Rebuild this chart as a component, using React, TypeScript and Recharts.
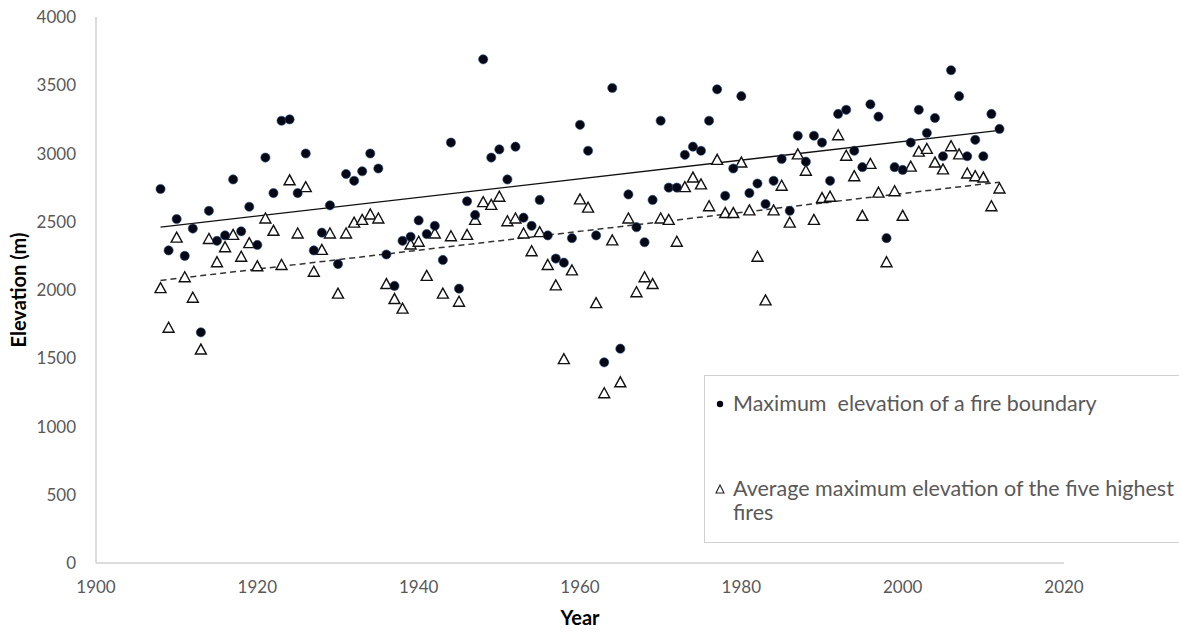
import React from 'react';
import { ScatterChart, Scatter, XAxis, YAxis, ReferenceLine, Label } from 'recharts';

const years = [
  1908, 1909, 1910, 1911, 1912, 1913, 1914, 1915, 1916, 1917, 1918, 1919, 1920, 1921, 1922, 1923, 1924, 1925,
  1926, 1927, 1928, 1929, 1930, 1931, 1932, 1933, 1934, 1935, 1936, 1937, 1938, 1939, 1940, 1941, 1942, 1943,
  1944, 1945, 1946, 1947, 1948, 1949, 1950, 1951, 1952, 1953, 1954, 1955, 1956, 1957, 1958, 1959, 1960, 1961,
  1962, 1963, 1964, 1965, 1966, 1967, 1968, 1969, 1970, 1971, 1972, 1973, 1974, 1975, 1976, 1977, 1978, 1979,
  1980, 1981, 1982, 1983, 1984, 1985, 1986, 1987, 1988, 1989, 1990, 1991, 1992, 1993, 1994, 1995, 1996, 1997,
  1998, 1999, 2000, 2001, 2002, 2003, 2004, 2005, 2006, 2007, 2008, 2009, 2010, 2011, 2012,
];

// maximum elevation of a fire boundary (m)
const maxElevation = [
  2740, 2290, 2520, 2250, 2450, 1690, 2580, 2360, 2400, 2810, 2430, 2610, 2330, 2970, 2710, 3240, 3250, 2710,
  3000, 2290, 2420, 2620, 2190, 2850, 2800, 2870, 3000, 2890, 2260, 2030, 2360, 2390, 2510, 2410, 2470, 2220,
  3080, 2010, 2650, 2550, 3690, 2970, 3030, 2810, 3050, 2530, 2470, 2660, 2400, 2230, 2200, 2380, 3210, 3020,
  2400, 1470, 3480, 1570, 2700, 2460, 2350, 2660, 3240, 2750, 2750, 2990, 3050, 3020, 3240, 3470, 2690, 2890,
  3420, 2710, 2780, 2630, 2800, 2960, 2580, 3130, 2940, 3130, 3080, 2800, 3290, 3320, 3020, 2900, 3360, 3270,
  2380, 2900, 2880, 3080, 3320, 3150, 3260, 2980, 3610, 3420, 2980, 3100, 2980, 3290, 3180,
];

// average maximum elevation of the five highest fires (m)
const avgTopFive = [
  2010, 1720, 2380, 2090, 1940, 1560, 2370, 2200, 2310, 2400, 2240, 2340, 2170, 2520, 2430, 2180, 2800, 2410,
  2750, 2130, 2290, 2410, 1970, 2410, 2490, 2510, 2550, 2520, 2040, 1930, 1860, 2330, 2350, 2100, 2410, 1970,
  2390, 1910, 2400, 2510, 2640, 2620, 2680, 2500, 2520, 2410, 2280, 2420, 2180, 2030, 1490, 2140, 2660, 2600,
  1900, 1240, 2360, 1320, 2520, 1980, 2090, 2040, 2520, 2510, 2350, 2750, 2820, 2770, 2610, 2950, 2560, 2560,
  2930, 2580, 2240, 1920, 2580, 2760, 2490, 2990, 2870, 2510, 2670, 2680, 3130, 2980, 2830, 2540, 2920, 2710,
  2200, 2720, 2540, 2900, 3010, 3030, 2930, 2880, 3050, 2990, 2850, 2830, 2820, 2610, 2740,
];

// fitted trend lines, endpoints
const trendMax = [{ x: 1908, y: 2460 }, { x: 2012, y: 3170 }];
const trendAvg = [{ x: 1908, y: 2070 }, { x: 2012, y: 2790 }];

const xTicks = [1900, 1920, 1940, 1960, 1980, 2000, 2020];
const yTicks = [0, 500, 1000, 1500, 2000, 2500, 3000, 3500, 4000];

const maxData = years.map((year, i) => ({ year, elevation: maxElevation[i] }));
const avgData = years.map((year, i) => ({ year, elevation: avgTopFive[i] }));

const FONT = 'Lato, "Open Sans", sans-serif';
const GREY_TEXT = '#595959';
const AXIS = '#d0d0d0';

const Dot = (props: any) => {
  const { cx, cy } = props;
  return <circle cx={cx} cy={cy} r={4.6} fill="#050814" stroke="#2a4d80" strokeWidth={0.6} />;
};

const Triangle = (props: any) => {
  const { cx, cy } = props;
  const h = 5;
  return (
    <polygon
      points={`${cx},${cy - h - 1} ${cx - h - 0.5},${cy + h - 1} ${cx + h + 0.5},${cy + h - 1}`}
      fill="#fff"
      stroke="#111"
      strokeWidth={1.4}
    />
  );
};

function LegendBox() {
  const text = { fontFamily: FONT, fontSize: 21.5, color: GREY_TEXT, lineHeight: '27px', whiteSpace: 'pre' as const };
  return (
    <div
      style={{
        position: 'absolute',
        left: 704,
        top: 375,
        width: 500,
        height: 168,
        border: `1.5px solid ${AXIS}`,
        background: '#fff',
        boxSizing: 'border-box',
      }}
    >
      <div style={{ position: 'absolute', left: 9, top: 14, display: 'flex', alignItems: 'center' }}>
        <svg width={12} height={12} style={{ marginRight: 7 }}>
          <circle cx={6} cy={6} r={3.2} fill="#050814" />
        </svg>
        <span style={text}>Maximum  elevation of a fire boundary</span>
      </div>
      <div style={{ position: 'absolute', left: 9, top: 99 }}>
        <div style={{ display: 'flex', alignItems: 'center' }}>
          <svg width={12} height={12} style={{ marginRight: 7 }}>
            <polygon points="6,2 2,10 10,10" fill="#fff" stroke="#222" strokeWidth={1.1} />
          </svg>
          <span style={text}>Average maximum elevation of the five highest</span>
        </div>
        <div style={{ ...text, marginLeft: 19, marginTop: -3 }}>fires</div>
      </div>
    </div>
  );
}

export default function App() {
  return (
    <div style={{ position: 'absolute', left: 0, top: 0, width: 1179, height: 632, background: '#fff', overflow: 'hidden' }}>
      <ScatterChart width={1179} height={632} margin={{ top: 17, right: 115, bottom: 39, left: 0 }}>
        <XAxis
          type="number"
          dataKey="year"
          domain={[1900, 2020]}
          ticks={xTicks}
          tickLine={false}
          tickSize={0}
          tickMargin={18}
          axisLine={{ stroke: AXIS, strokeWidth: 1.5 }}
          tick={{ fontSize: 17, fill: GREY_TEXT, fontFamily: FONT }}
          height={30}
        >
          <Label
            value="Year"
            position="bottom"
            offset={18}
            style={{ fontSize: 20, fontWeight: 700, fill: '#000', fontFamily: FONT }}
          />
        </XAxis>
        <YAxis
          type="number"
          dataKey="elevation"
          domain={[0, 4000]}
          ticks={yTicks}
          tickLine={false}
          tickSize={0}
          tickMargin={20}
          axisLine={{ stroke: AXIS, strokeWidth: 1.5 }}
          tick={{ fontSize: 17, fill: GREY_TEXT, fontFamily: FONT }}
          width={96}
        >
          <Label
            value="Elevation (m)"
            angle={-90}
            position="insideLeft"
            offset={19}
            style={{ fontSize: 20, fontWeight: 700, fill: '#000', fontFamily: FONT, textAnchor: 'middle' }}
          />
        </YAxis>
        <ReferenceLine segment={trendMax} stroke="#111" strokeWidth={1.3} />
        <ReferenceLine segment={trendAvg} stroke="#333" strokeWidth={1.5} strokeDasharray="6 4" />
        <Scatter data={avgData} shape={Triangle} isAnimationActive={false} />
        <Scatter data={maxData} shape={Dot} isAnimationActive={false} />
      </ScatterChart>
      <LegendBox />
    </div>
  );
}
